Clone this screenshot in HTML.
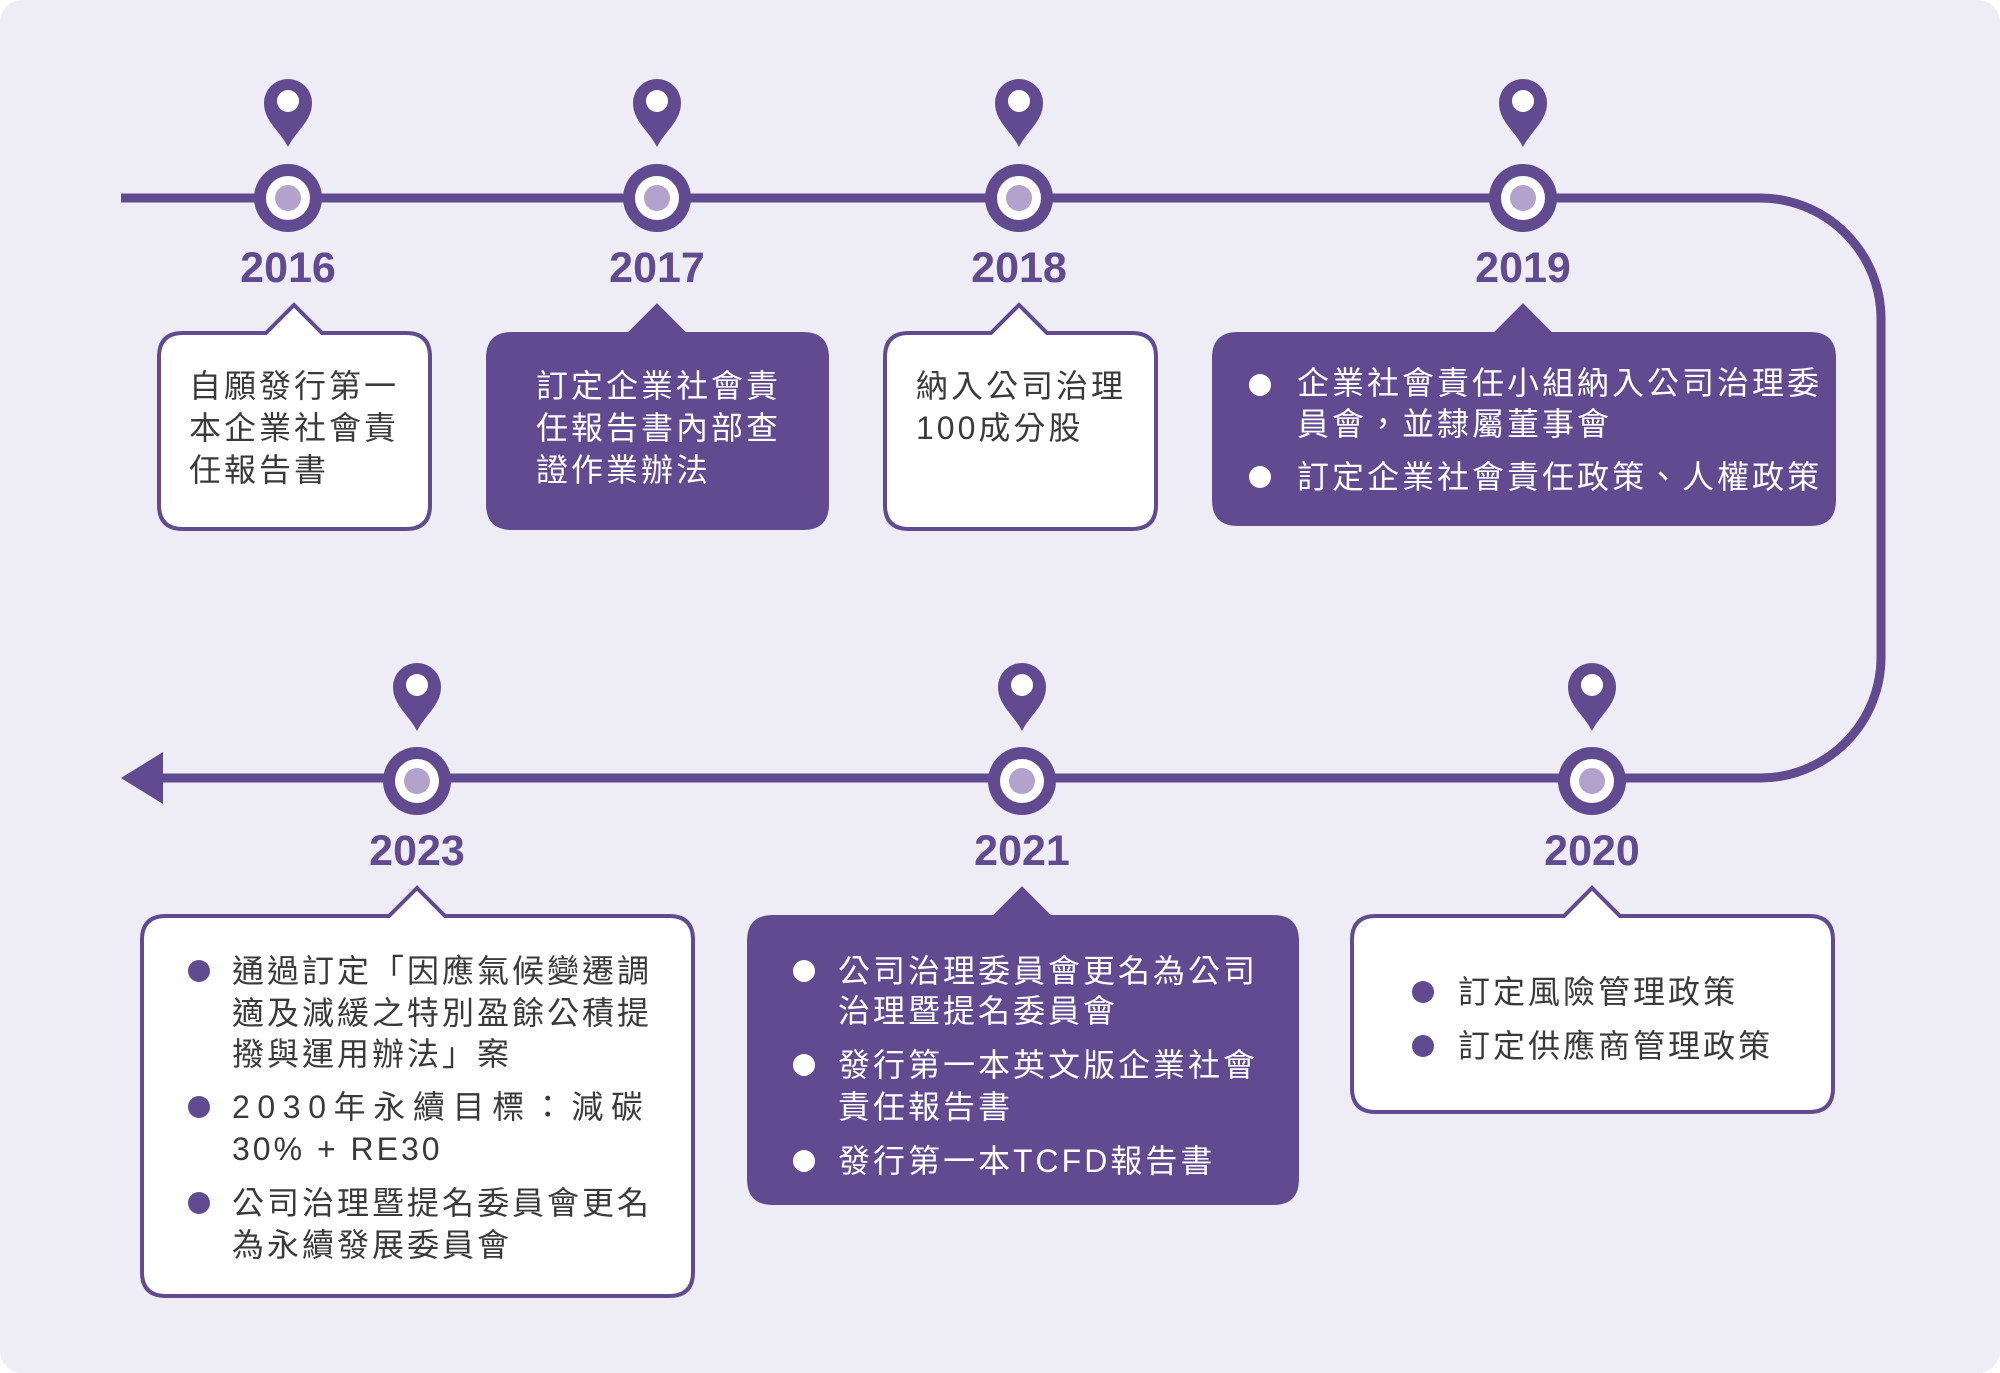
<!DOCTYPE html>
<html><head><meta charset="utf-8"><style>
html,body{margin:0;padding:0;background:#fff;}
svg{display:block}
text{font-family:"Liberation Sans","Noto Sans CJK TC",sans-serif;}
.t{font-size:32px;letter-spacing:3px;fill:#3a3a3a;dominant-baseline:central}
.w{fill:#fff}
.y{font-size:43px;font-weight:bold;fill:#614a8f;text-anchor:middle;dominant-baseline:central}
</style></head><body>
<svg width="2000" height="1373" viewBox="0 0 2000 1373" xmlns="http://www.w3.org/2000/svg">
<rect x="0" y="0" width="2000" height="1373" rx="22" fill="#eeecf5"/>
<path d="M121,198 H1760 A121,121 0 0 1 1881,319 V657 A121,121 0 0 1 1760,778 H150" fill="none" stroke="#614a8f" stroke-width="9"/>
<polygon points="121,778 163,752 163,804" fill="#614a8f"/>
<g id="nodes" fill="#614a8f">
<g transform="translate(288,198)"><circle r="34"/><circle r="22" fill="#fff"/><circle r="13" fill="#b3a3cc"/></g>
<g transform="translate(657,198)"><circle r="34"/><circle r="22" fill="#fff"/><circle r="13" fill="#b3a3cc"/></g>
<g transform="translate(1019,198)"><circle r="34"/><circle r="22" fill="#fff"/><circle r="13" fill="#b3a3cc"/></g>
<g transform="translate(1523,198)"><circle r="34"/><circle r="22" fill="#fff"/><circle r="13" fill="#b3a3cc"/></g>
<g transform="translate(417,781)"><circle r="34"/><circle r="22" fill="#fff"/><circle r="13" fill="#b3a3cc"/></g>
<g transform="translate(1022,781)"><circle r="34"/><circle r="22" fill="#fff"/><circle r="13" fill="#b3a3cc"/></g>
<g transform="translate(1592,781)"><circle r="34"/><circle r="22" fill="#fff"/><circle r="13" fill="#b3a3cc"/></g>
</g>
<g fill="#614a8f">
<g transform="translate(288,103)"><path d="M0,44 C-8,28 -24,18 -24,0 A24,24 0 0 1 24,0 C24,18 8,28 0,44Z"/><circle cy="-2" r="11" fill="#fff"/></g>
<g transform="translate(657,103)"><path d="M0,44 C-8,28 -24,18 -24,0 A24,24 0 0 1 24,0 C24,18 8,28 0,44Z"/><circle cy="-2" r="11" fill="#fff"/></g>
<g transform="translate(1019,103)"><path d="M0,44 C-8,28 -24,18 -24,0 A24,24 0 0 1 24,0 C24,18 8,28 0,44Z"/><circle cy="-2" r="11" fill="#fff"/></g>
<g transform="translate(1523,103)"><path d="M0,44 C-8,28 -24,18 -24,0 A24,24 0 0 1 24,0 C24,18 8,28 0,44Z"/><circle cy="-2" r="11" fill="#fff"/></g>
<g transform="translate(417,687)"><path d="M0,44 C-8,28 -24,18 -24,0 A24,24 0 0 1 24,0 C24,18 8,28 0,44Z"/><circle cy="-2" r="11" fill="#fff"/></g>
<g transform="translate(1022,687)"><path d="M0,44 C-8,28 -24,18 -24,0 A24,24 0 0 1 24,0 C24,18 8,28 0,44Z"/><circle cy="-2" r="11" fill="#fff"/></g>
<g transform="translate(1592,687)"><path d="M0,44 C-8,28 -24,18 -24,0 A24,24 0 0 1 24,0 C24,18 8,28 0,44Z"/><circle cy="-2" r="11" fill="#fff"/></g>
</g>
<text class="y" x="288" y="268">2016</text>
<text class="y" x="657" y="268">2017</text>
<text class="y" x="1019" y="268">2018</text>
<text class="y" x="1523" y="268">2019</text>
<text class="y" x="417" y="851">2023</text>
<text class="y" x="1022" y="851">2021</text>
<text class="y" x="1592" y="851">2020</text>

<g stroke="#614a8f" stroke-width="4">
<path fill="#fff" d="M183,333 H266 L294,305 L322,333 H406 Q430,333 430,357 V505 Q430,529 406,529 H183 Q159,529 159,505 V357 Q159,333 183,333Z"/>
<path fill="#614a8f" d="M512,334 H629 L657,306 L685,334 H803 Q827,334 827,358 V504 Q827,528 803,528 H512 Q488,528 488,504 V358 Q488,334 512,334Z"/>
<path fill="#fff" d="M909,333 H991 L1019,305 L1047,333 H1132 Q1156,333 1156,357 V505 Q1156,529 1132,529 H909 Q885,529 885,505 V357 Q885,333 909,333Z"/>
<path fill="#614a8f" d="M1238,334 H1495 L1523,306 L1551,334 H1810 Q1834,334 1834,358 V500 Q1834,524 1810,524 H1238 Q1214,524 1214,500 V358 Q1214,334 1238,334Z"/>
<path fill="#fff" d="M166,916 H389 L417,888 L445,916 H669 Q693,916 693,940 V1272 Q693,1296 669,1296 H166 Q142,1296 142,1272 V940 Q142,916 166,916Z"/>
<path fill="#614a8f" d="M773,917 H994 L1022,889 L1050,917 H1273 Q1297,917 1297,941 V1179 Q1297,1203 1273,1203 H773 Q749,1203 749,1179 V941 Q749,917 773,917Z"/>
<path fill="#fff" d="M1376,916 H1564 L1592,888 L1620,916 H1809 Q1833,916 1833,940 V1088 Q1833,1112 1809,1112 H1376 Q1352,1112 1352,1088 V940 Q1352,916 1376,916Z"/>
</g>

<text class="t" x="189" y="386">自願發行第一</text>
<text class="t" x="189" y="428">本企業社會責</text>
<text class="t" x="189" y="470">任報告書</text>

<text class="t w" x="536" y="386">訂定企業社會責</text>
<text class="t w" x="536" y="428">任報告書內部查</text>
<text class="t w" x="536" y="470">證作業辦法</text>

<text class="t" x="916" y="386">納入公司治理</text>
<text class="t" x="916" y="428">100成分股</text>

<circle cx="1260" cy="385" r="11" fill="#fff"/>
<circle cx="1260" cy="477" r="11" fill="#fff"/>
<text class="t w" x="1297" y="383">企業社會責任小組納入公司治理委</text>
<text class="t w" x="1297" y="424">員會，並隸屬董事會</text>
<text class="t w" x="1297" y="477">訂定企業社會責任政策、人權政策</text>

<circle cx="199" cy="971" r="11" fill="#614a8f"/>
<circle cx="199" cy="1107" r="11" fill="#614a8f"/>
<circle cx="199" cy="1203" r="11" fill="#614a8f"/>
<text class="t" x="232" y="971">通過訂定「因應氣候變遷調</text>
<text class="t" x="232" y="1013">適及減緩之特別盈餘公積提</text>
<text class="t" x="232" y="1054">撥與運用辦法」案</text>
<text class="t" x="232" y="1107" textLength="414" lengthAdjust="spacing">2030年永續目標：減碳</text>
<text class="t" x="232" y="1149">30% + RE30</text>
<text class="t" x="232" y="1203">公司治理暨提名委員會更名</text>
<text class="t" x="232" y="1245">為永續發展委員會</text>

<circle cx="804" cy="971" r="11" fill="#fff"/>
<circle cx="804" cy="1065" r="11" fill="#fff"/>
<circle cx="804" cy="1161" r="11" fill="#fff"/>
<text class="t w" x="838" y="971">公司治理委員會更名為公司</text>
<text class="t w" x="838" y="1011">治理暨提名委員會</text>
<text class="t w" x="838" y="1065">發行第一本英文版企業社會</text>
<text class="t w" x="838" y="1107">責任報告書</text>
<text class="t w" x="838" y="1161">發行第一本TCFD報告書</text>

<circle cx="1423" cy="992" r="11" fill="#614a8f"/>
<circle cx="1423" cy="1046" r="11" fill="#614a8f"/>
<text class="t" x="1458" y="992">訂定風險管理政策</text>
<text class="t" x="1458" y="1046">訂定供應商管理政策</text>
</svg>
</body></html>
